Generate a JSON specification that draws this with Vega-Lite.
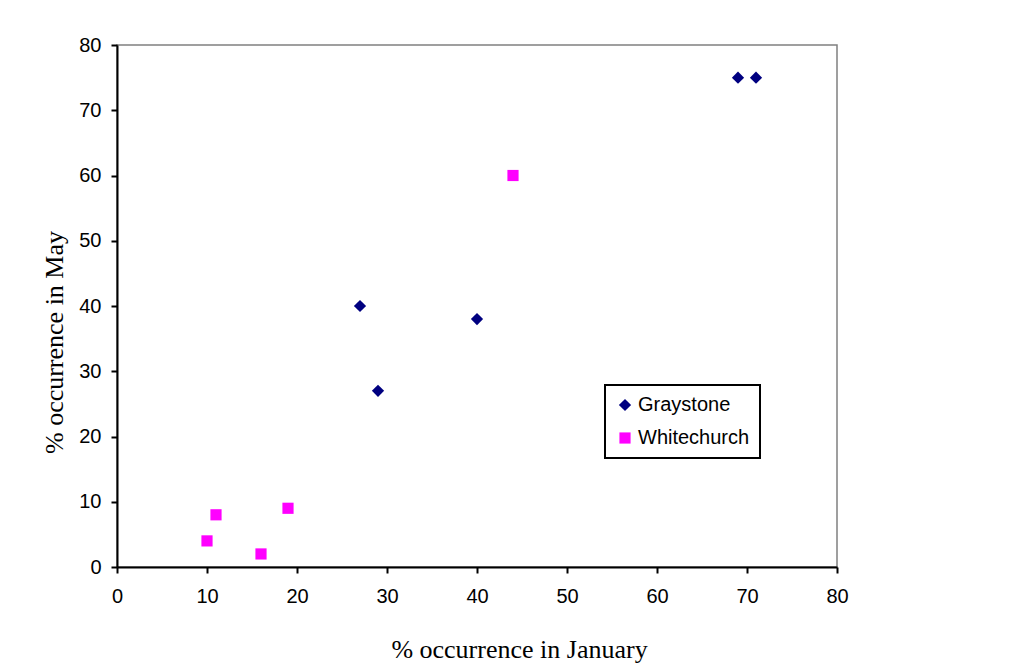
{
  "$schema": "https://vega.github.io/schema/vega-lite/v6.json",
  "autosize": "none",
  "width": 720,
  "height": 522,
  "padding": {"left": 117, "top": 45, "right": 183, "bottom": 104},
  "background": "white",
  "config": {
    "view": {"stroke": "#808080", "strokeWidth": 1.5},
    "axis": {
      "grid": false,
      "labelFlush": false,
      "domainColor": "black",
      "domainWidth": 2,
      "tickColor": "black",
      "tickWidth": 2,
      "tickSize": 6,
      "labelFont": "Liberation Sans",
      "labelFontSize": 20,
      "labelColor": "black",
      "titleFont": "Liberation Serif",
      "titleFontSize": 26,
      "titleFontWeight": "normal",
      "titleColor": "black"
    },
    "legend": {
      "strokeColor": "black",
      "strokeWidth": 2,
      "fillColor": "white",
      "padding": 10,
      "labelFont": "Liberation Sans",
      "labelFontSize": 20,
      "labelColor": "black",
      "rowPadding": 13,
      "labelOffset": 3
    }
  },
  "data": {
    "values": [
      {"jan": 69, "may": 75, "site": "Graystone"},
      {"jan": 71, "may": 75, "site": "Graystone"},
      {"jan": 27, "may": 40, "site": "Graystone"},
      {"jan": 29, "may": 27, "site": "Graystone"},
      {"jan": 40, "may": 38, "site": "Graystone"},
      {"jan": 44, "may": 60, "site": "Whitechurch"},
      {"jan": 10, "may": 4, "site": "Whitechurch"},
      {"jan": 11, "may": 8, "site": "Whitechurch"},
      {"jan": 16, "may": 2, "site": "Whitechurch"},
      {"jan": 19, "may": 9, "site": "Whitechurch"}
    ]
  },
  "mark": {"type": "point", "filled": true, "opacity": 1},
  "encoding": {
    "x": {
      "field": "jan", "type": "quantitative",
      "scale": {"domain": [0, 80], "nice": false},
      "axis": {"values": [0,10,20,30,40,50,60,70,80], "title": "% occurrence in January", "labelPadding": 13, "titlePadding": 30, "titleX": 402}
    },
    "y": {
      "field": "may", "type": "quantitative",
      "scale": {"domain": [0, 80], "nice": false},
      "axis": {"values": [0,10,20,30,40,50,60,70,80], "title": "% occurrence in May", "labelPadding": 10, "titlePadding": 11, "titleY": 297}
    },
    "color": {
      "field": "site", "type": "nominal",
      "scale": {"domain": ["Graystone", "Whitechurch"], "range": ["#000080", "#FF00FF"]},
      "legend": {
        "title": null,
        "orient": "none",
        "legendX": 488,
        "legendY": 340
      }
    },
    "shape": {
      "field": "site", "type": "nominal",
      "scale": {"domain": ["Graystone", "Whitechurch"], "range": ["diamond", "square"]}
    },
    "size": {
      "field": "site", "type": "nominal",
      "scale": {"domain": ["Graystone", "Whitechurch"], "range": [150, 125]}
    }
  }
}
